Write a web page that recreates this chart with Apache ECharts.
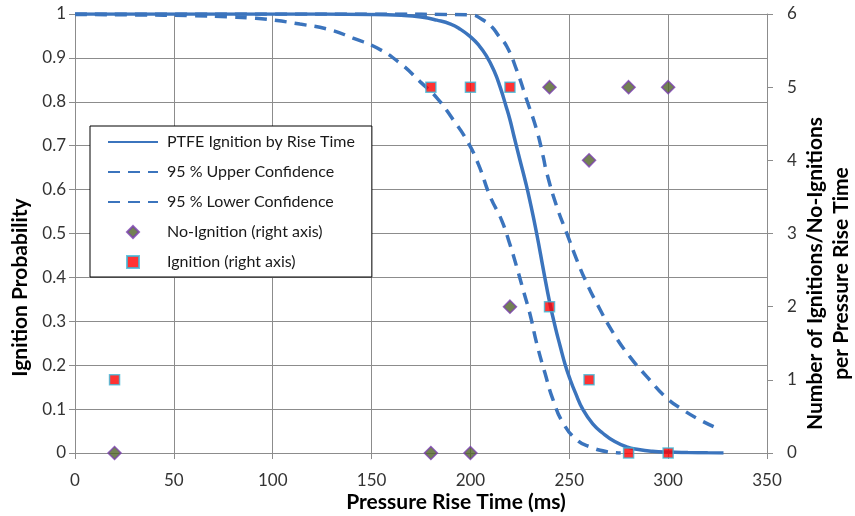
<!DOCTYPE html>
<html>
<head>
<meta charset="utf-8">
<script src="https://cdn.jsdelivr.net/npm/echarts@6/dist/echarts.min.js"></script>
<style>
html,body{margin:0;padding:0;background:#fff;}
#chart{width:855px;height:516px;}
</style>
</head>
<body>
<div id="chart"></div>
<script>
// ---- data ----
const fitX = [0, 50, 100, 150, 165, 175, 183, 190, 195, 200, 204, 208, 212, 215, 218, 220, 222, 225, 228, 230, 233.5, 237, 240, 243, 245.3, 248, 250.4, 253, 257, 262, 267, 273, 279, 285, 292, 300, 310, 320, 328];
const fitY = [1, 1, 1, 0.999, 0.997, 0.993, 0.986, 0.977, 0.965, 0.948, 0.93, 0.905, 0.87, 0.834, 0.79, 0.759, 0.722, 0.668, 0.615, 0.576, 0.5, 0.415, 0.345, 0.285, 0.245, 0.2, 0.168, 0.138, 0.098, 0.066, 0.045, 0.026, 0.014, 0.008, 0.004, 0.002, 0.001, 0.0005, 0];

const upperX = [0, 50, 100, 150, 200, 206.5, 210.8, 214, 218.4, 223.4, 228.5, 233.5, 236.8, 238.6, 243.7, 248.7, 253.8, 258.8, 263.9, 272.3, 280.7, 289.2, 299.3, 307.6, 315, 323];
const upperY = [1, 1, 1, 1, 0.998, 0.986, 0.971, 0.952, 0.926, 0.872, 0.804, 0.736, 0.675, 0.638, 0.561, 0.501, 0.44, 0.387, 0.341, 0.273, 0.219, 0.174, 0.125, 0.098, 0.078, 0.06];

const lowerX = [0, 30, 60, 80, 88.5, 98.6, 113.8, 129, 140.6, 152.6, 164.4, 174.5, 183, 191.3, 198.1, 204, 210, 215.8, 220, 223.4, 226.7, 230.2, 233.5, 237.7, 241.8, 246.9, 253.8, 260.5, 269, 276];
const lowerY = [0.999, 0.998, 0.996, 0.993, 0.991, 0.987, 0.977, 0.964, 0.945, 0.923, 0.888, 0.846, 0.809, 0.759, 0.713, 0.658, 0.584, 0.53, 0.475, 0.424, 0.371, 0.315, 0.25, 0.182, 0.121, 0.068, 0.03, 0.014, 0.003, 0];

const testTimes = [20, 180, 200, 220, 240, 260, 280, 300];
const noIgnitionCounts = [0, 0, 0, 2, 5, 4, 5, 5];
const ignitionCounts = [1, 5, 5, 5, 2, 1, 0, 0];

const seriesNames = ['PTFE Ignition by Rise Time', '95 % Upper Confidence', '95 % Lower Confidence', 'No-Ignition (right axis)', 'Ignition (right axis)'];
const xTitle = 'Pressure Rise Time (ms)';
const yTitle = 'Ignition Probability';
const y2Title = 'Number of Ignitions/No-Ignitions\nper Pressure Rise Time';

// ---- build ----
const pairs = (xs, ys) => xs.map((x, i) => [x, ys[i]]);
const FONT = 'Lato';
const LINE = '#3B74BD';
const GRID = '#8c8c8c';

const legendData = [
  {name: seriesNames[0], itemStyle: {opacity: 0}},
  {name: seriesNames[1], itemStyle: {opacity: 0}},
  {name: seriesNames[2], itemStyle: {opacity: 0}},
  {name: seriesNames[3], icon: 'path://M0,-1L1,0L0,1L-1,0Z'},
  {name: seriesNames[4], icon: 'path://M-1,-1L1,-1L1,1L-1,1Z'}
];

const chart = echarts.init(document.getElementById('chart'), null, {renderer: 'canvas'});
chart.setOption({
  animation: false,
  backgroundColor: '#ffffff',
  textStyle: {fontFamily: FONT},
  grid: {left: 75, right: 88, top: 14, bottom: 63, containLabel: false, outerBoundsMode: 'none'},
  legend: {
    data: legendData,
    orient: 'vertical',
    left: 90,
    top: 126,
    itemWidth: 50,
    itemHeight: 12,
    itemGap: 12,
    symbolKeepAspect: true,
    padding: [7, 17, 6, 17],
    borderColor: '#000',
    borderWidth: 1,
    backgroundColor: '#fff',
    selectedMode: false,
    textStyle: {fontFamily: FONT, fontSize: 16, color: '#1a1a1a', padding: [0, 0, 0, 4], lineHeight: 18}
  },
  xAxis: {
    type: 'value', min: 0, max: 350, interval: 50,
    name: xTitle, nameLocation: 'middle', nameGap: 39, nameMoveOverlap: false,
    nameTextStyle: {fontFamily: FONT, fontSize: 21, fontWeight: 'bold', color: '#000', padding: [0, 0, 0, 70]},
    axisLine: {show: true, lineStyle: {color: GRID, width: 1}},
    axisTick: {show: true, length: 6, inside: false, lineStyle: {color: GRID}},
    axisLabel: {fontFamily: FONT, fontSize: 17, color: '#333', margin: 19},
    splitLine: {show: true, lineStyle: {color: GRID, width: 1}}
  },
  yAxis: [{
    type: 'value', min: 0, max: 1, interval: 0.1, position: 'left',
    name: yTitle, nameLocation: 'middle', nameRotate: 90, nameGap: 44, nameMoveOverlap: false,
    nameTextStyle: {fontFamily: FONT, fontSize: 21, fontWeight: 'bold', color: '#000', padding: [0, 108, 0, 0]},
    axisLine: {show: true, lineStyle: {color: GRID, width: 1}},
    axisTick: {show: true, length: 6, inside: false, lineStyle: {color: GRID}},
    axisLabel: {fontFamily: FONT, fontSize: 17, color: '#333', margin: 9,
      formatter: v => (Math.round(v * 10) / 10).toString()},
    splitLine: {show: true, lineStyle: {color: GRID, width: 1}}
  }, {
    type: 'value', min: 0, max: 6, interval: 1, position: 'right',
    name: y2Title, nameLocation: 'middle', nameRotate: 90, nameGap: 35, nameMoveOverlap: false,
    nameTextStyle: {fontFamily: FONT, fontSize: 21, fontWeight: 'bold', color: '#000', lineHeight: 26, align: 'center', padding: [0, 80, 0, 0]},
    axisLine: {show: true, lineStyle: {color: GRID, width: 1}},
    axisTick: {show: true, length: 6, inside: false, lineStyle: {color: GRID}},
    axisLabel: {fontFamily: FONT, fontSize: 17, color: '#333', margin: 20},
    splitLine: {show: false}
  }],
  series: [{
    name: seriesNames[0], type: 'line', data: pairs(fitX, fitY),
    smooth: true, symbol: 'none', z: 3,
    lineStyle: {color: LINE, width: 3.5}, itemStyle: {color: LINE}
  }, {
    name: seriesNames[1], type: 'line', data: pairs(upperX, upperY),
    smooth: true, symbol: 'none', z: 2,
    lineStyle: {color: LINE, width: 3.5, type: [12, 8]}, itemStyle: {color: LINE}
  }, {
    name: seriesNames[2], type: 'line', data: pairs(lowerX, lowerY),
    smooth: true, symbol: 'none', z: 2,
    lineStyle: {color: LINE, width: 3.5, type: [12, 8]}, itemStyle: {color: LINE}
  }, {
    name: seriesNames[3], type: 'scatter', yAxisIndex: 1, z: 5,
    data: pairs(testTimes, noIgnitionCounts),
    symbol: 'diamond', symbolSize: 13, symbolKeepAspect: true,
    itemStyle: {color: '#4F6228', borderColor: '#7B3FB0', borderWidth: 1.5}
  }, {
    name: seriesNames[4], type: 'scatter', yAxisIndex: 1, z: 6,
    data: pairs(testTimes, ignitionCounts),
    symbol: 'rect', symbolSize: 10, symbolKeepAspect: true,
    itemStyle: {color: '#FF0000', borderColor: '#3FB8D8', borderWidth: 1.5}
  }]
});
</script>
</body>
</html>
